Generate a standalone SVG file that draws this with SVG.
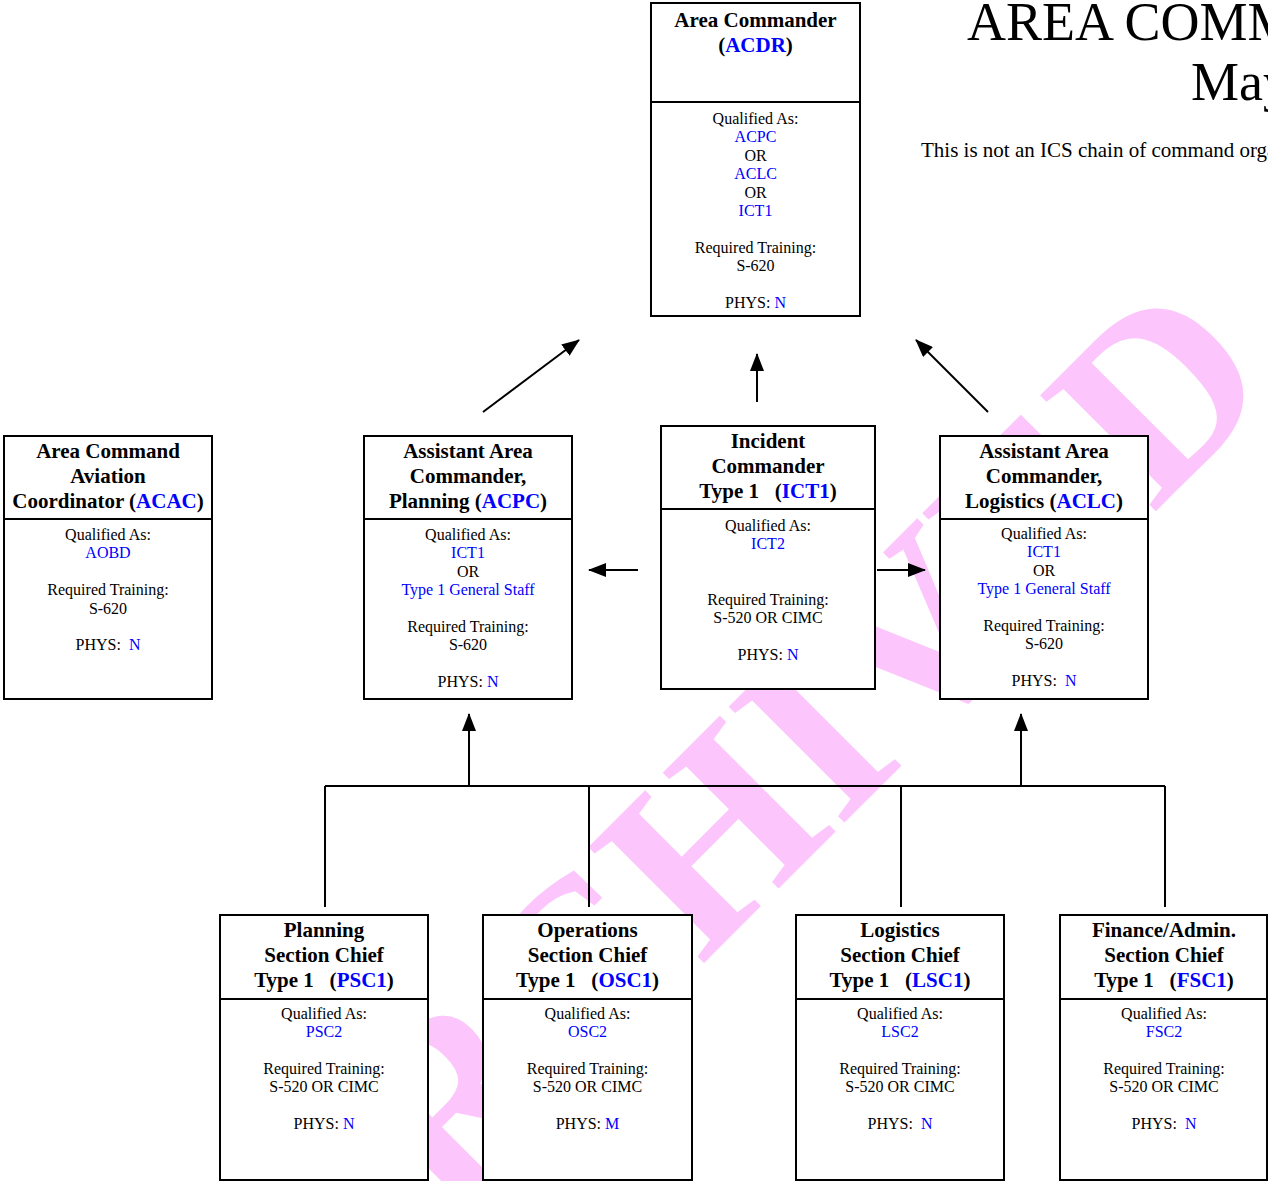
<svg xmlns="http://www.w3.org/2000/svg" width="1268" height="1181" viewBox="0 0 1268 1181">
<defs>
<style>
.box{fill:#fff;stroke:#000;stroke-width:2}
.dv{stroke:#000;stroke-width:2}
.t{font-family:"Liberation Serif","Times New Roman",serif;font-weight:bold;font-size:21px;text-anchor:middle;fill:#000}
.b{font-family:"Liberation Serif","Times New Roman",serif;font-size:16px;text-anchor:middle;fill:#000}
.bl{fill:#0000FF}
.wm{font-family:"Liberation Serif","Times New Roman",serif;font-weight:bold;font-size:250px;fill:#FCC5FC}
.hd{font-family:"Liberation Serif","Times New Roman",serif;fill:#000}
.conn{stroke:#000;stroke-width:2;fill:none}
</style>
<marker id="ah" markerUnits="userSpaceOnUse" markerWidth="18" markerHeight="14" refX="17" refY="7" orient="auto"><path d="M0,0 L18,7 L0,14 z" fill="#000"/></marker>
</defs>
<rect x="0" y="0" width="1268" height="1181" fill="#fff"/>
<text class="wm" transform="translate(318,1349) rotate(-45)">ARCHIVED</text>
<g id="heading">
<text class="hd" x="967" y="40" font-size="54">AREA COMMAND</text>
<text class="hd" x="1191" y="100" font-size="54">May</text>
<text class="hd" x="921" y="157" font-size="21">This is not an ICS chain of command organization</text>
</g>
<g id="connectors">
<line class="conn" x1="325" y1="786" x2="1165" y2="786"/>
<line class="conn" x1="325" y1="786" x2="325" y2="907"/>
<line class="conn" x1="589" y1="786" x2="589" y2="907"/>
<line class="conn" x1="901" y1="786" x2="901" y2="907"/>
<line class="conn" x1="1165" y1="786" x2="1165" y2="907"/>
<line class="conn" x1="469" y1="786" x2="469" y2="714" marker-end="url(#ah)"/>
<line class="conn" x1="1021" y1="786" x2="1021" y2="714" marker-end="url(#ah)"/>
<line class="conn" x1="638" y1="570" x2="589" y2="570" marker-end="url(#ah)"/>
<line class="conn" x1="877" y1="570" x2="925" y2="570" marker-end="url(#ah)"/>
<line class="conn" x1="483" y1="412" x2="579" y2="340" marker-end="url(#ah)"/>
<line class="conn" x1="757" y1="402" x2="757" y2="354" marker-end="url(#ah)"/>
<line class="conn" x1="988" y1="412" x2="916" y2="340" marker-end="url(#ah)"/>
</g>
<g id="ACDR">
<rect class="box" x="651" y="3" width="209" height="313"/>
<line class="dv" x1="651" y1="102" x2="860" y2="102"/>
<text class="t" x="755.5" y="27">Area Commander</text>
<text class="t" x="755.5" y="52">(<tspan class="bl">ACDR</tspan>)</text>
<text class="b" x="755.5" y="124">Qualified As:</text>
<text class="b bl" x="755.5" y="142.4">ACPC</text>
<text class="b" x="755.5" y="160.8">OR</text>
<text class="b bl" x="755.5" y="179.2">ACLC</text>
<text class="b" x="755.5" y="197.6">OR</text>
<text class="b bl" x="755.5" y="216">ICT1</text>
<text class="b" x="755.5" y="252.8">Required Training:</text>
<text class="b" x="755.5" y="271.2">S-620</text>
<text class="b" x="755.5" y="308">PHYS: <tspan class="bl">N</tspan></text>
</g>
<g id="ACAC">
<rect class="box" x="4" y="436" width="208" height="263"/>
<line class="dv" x1="4" y1="519" x2="212" y2="519"/>
<text class="t" x="108" y="458">Area Command</text>
<text class="t" x="108" y="483">Aviation</text>
<text class="t" x="108" y="508">Coordinator (<tspan class="bl">ACAC</tspan>)</text>
<text class="b" x="108" y="540">Qualified As:</text>
<text class="b bl" x="108" y="558.4">AOBD</text>
<text class="b" x="108" y="595.2">Required Training:</text>
<text class="b" x="108" y="613.6">S-620</text>
<text class="b" x="108" y="650.4" xml:space="preserve">PHYS:  <tspan class="bl">N</tspan></text>
</g>
<g id="ACPC">
<rect class="box" x="364" y="436" width="208" height="263"/>
<line class="dv" x1="364" y1="519" x2="572" y2="519"/>
<text class="t" x="468" y="458">Assistant Area</text>
<text class="t" x="468" y="483">Commander,</text>
<text class="t" x="468" y="508">Planning (<tspan class="bl">ACPC</tspan>)</text>
<text class="b" x="468" y="540">Qualified As:</text>
<text class="b bl" x="468" y="558.4">ICT1</text>
<text class="b" x="468" y="576.8">OR</text>
<text class="b bl" x="468" y="595.2">Type 1 General Staff</text>
<text class="b" x="468" y="632">Required Training:</text>
<text class="b" x="468" y="650.4">S-620</text>
<text class="b" x="468" y="687.2">PHYS: <tspan class="bl">N</tspan></text>
</g>
<g id="ICT1">
<rect class="box" x="661" y="426" width="214" height="263"/>
<line class="dv" x1="661" y1="509" x2="875" y2="509"/>
<text class="t" x="768" y="448">Incident</text>
<text class="t" x="768" y="473">Commander</text>
<text class="t" x="768" y="498" xml:space="preserve">Type 1   (<tspan class="bl">ICT1</tspan>)</text>
<text class="b" x="768" y="531">Qualified As:</text>
<text class="b bl" x="768" y="549.4">ICT2</text>
<text class="b" x="768" y="604.6">Required Training:</text>
<text class="b" x="768" y="623">S-520 OR CIMC</text>
<text class="b" x="768" y="659.8">PHYS: <tspan class="bl">N</tspan></text>
</g>
<g id="ACLC">
<rect class="box" x="940" y="436" width="208" height="263"/>
<line class="dv" x1="940" y1="519" x2="1148" y2="519"/>
<text class="t" x="1044" y="458">Assistant Area</text>
<text class="t" x="1044" y="483">Commander,</text>
<text class="t" x="1044" y="508">Logistics (<tspan class="bl">ACLC</tspan>)</text>
<text class="b" x="1044" y="539">Qualified As:</text>
<text class="b bl" x="1044" y="557.4">ICT1</text>
<text class="b" x="1044" y="575.8">OR</text>
<text class="b bl" x="1044" y="594.2">Type 1 General Staff</text>
<text class="b" x="1044" y="631">Required Training:</text>
<text class="b" x="1044" y="649.4">S-620</text>
<text class="b" x="1044" y="686.2" xml:space="preserve">PHYS:  <tspan class="bl">N</tspan></text>
</g>
<g id="PSC1">
<rect class="box" x="220" y="915" width="208" height="265"/>
<line class="dv" x1="220" y1="999" x2="428" y2="999"/>
<text class="t" x="324" y="937">Planning</text>
<text class="t" x="324" y="962">Section Chief</text>
<text class="t" x="324" y="987" xml:space="preserve">Type 1   (<tspan class="bl">PSC1</tspan>)</text>
<text class="b" x="324" y="1018.5">Qualified As:</text>
<text class="b bl" x="324" y="1036.9">PSC2</text>
<text class="b" x="324" y="1073.7">Required Training:</text>
<text class="b" x="324" y="1092.1">S-520 OR CIMC</text>
<text class="b" x="324" y="1128.9">PHYS: <tspan class="bl">N</tspan></text>
</g>
<g id="OSC1">
<rect class="box" x="483" y="915" width="209" height="265"/>
<line class="dv" x1="483" y1="999" x2="692" y2="999"/>
<text class="t" x="587.5" y="937">Operations</text>
<text class="t" x="587.5" y="962">Section Chief</text>
<text class="t" x="587.5" y="987" xml:space="preserve">Type 1   (<tspan class="bl">OSC1</tspan>)</text>
<text class="b" x="587.5" y="1018.5">Qualified As:</text>
<text class="b bl" x="587.5" y="1036.9">OSC2</text>
<text class="b" x="587.5" y="1073.7">Required Training:</text>
<text class="b" x="587.5" y="1092.1">S-520 OR CIMC</text>
<text class="b" x="587.5" y="1128.9">PHYS: <tspan class="bl">M</tspan></text>
</g>
<g id="LSC1">
<rect class="box" x="796" y="915" width="208" height="265"/>
<line class="dv" x1="796" y1="999" x2="1004" y2="999"/>
<text class="t" x="900" y="937">Logistics</text>
<text class="t" x="900" y="962">Section Chief</text>
<text class="t" x="900" y="987" xml:space="preserve">Type 1   (<tspan class="bl">LSC1</tspan>)</text>
<text class="b" x="900" y="1018.5">Qualified As:</text>
<text class="b bl" x="900" y="1036.9">LSC2</text>
<text class="b" x="900" y="1073.7">Required Training:</text>
<text class="b" x="900" y="1092.1">S-520 OR CIMC</text>
<text class="b" x="900" y="1128.9" xml:space="preserve">PHYS:  <tspan class="bl">N</tspan></text>
</g>
<g id="FSC1">
<rect class="box" x="1060" y="915" width="207" height="265"/>
<line class="dv" x1="1060" y1="999" x2="1267" y2="999"/>
<text class="t" x="1164" y="937">Finance/Admin.</text>
<text class="t" x="1164" y="962">Section Chief</text>
<text class="t" x="1164" y="987" xml:space="preserve">Type 1   (<tspan class="bl">FSC1</tspan>)</text>
<text class="b" x="1164" y="1018.5">Qualified As:</text>
<text class="b bl" x="1164" y="1036.9">FSC2</text>
<text class="b" x="1164" y="1073.7">Required Training:</text>
<text class="b" x="1164" y="1092.1">S-520 OR CIMC</text>
<text class="b" x="1164" y="1128.9" xml:space="preserve">PHYS:  <tspan class="bl">N</tspan></text>
</g>
</svg>
